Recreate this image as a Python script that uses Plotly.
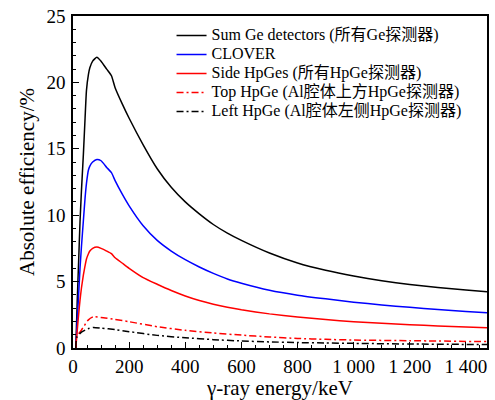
import plotly.graph_objects as go

# Energies (keV) and absolute efficiencies (%)
e_main = [10, 15, 20, 25, 30, 37, 43, 48, 55, 60, 70, 85, 100, 120, 137, 150, 175, 200, 250, 300, 350, 400, 450, 500, 550, 600, 700, 800, 900, 1000, 1100, 1200, 1300, 1400, 1475]
sum_ge = [0, 3.5, 6.5, 9.5, 11.8, 14.6, 17.3, 19.4, 20.6, 21.1, 21.6, 21.9, 21.6, 21.0, 20.5, 19.6, 18.4, 17.3, 15.3, 13.5, 12.1, 11.0, 10.1, 9.3, 8.65, 8.1, 7.15, 6.4, 5.85, 5.42, 5.07, 4.78, 4.55, 4.36, 4.23]
clover = [0, 2.0, 4.0, 6.0, 7.6, 9.6, 11.3, 12.4, 13.4, 13.7, 14.0, 14.2, 14.1, 13.6, 13.2, 12.6, 11.6, 10.7, 9.2, 8.1, 7.3, 6.65, 6.1, 5.62, 5.2, 4.88, 4.35, 3.98, 3.7, 3.45, 3.24, 3.06, 2.9, 2.75, 2.65]
side_hpge = [0, 1.3, 2.5, 3.6, 4.5, 5.5, 6.2, 6.7, 7.1, 7.3, 7.5, 7.6, 7.5, 7.3, 7.1, 6.8, 6.4, 6.0, 5.3, 4.8, 4.33, 3.92, 3.58, 3.3, 3.07, 2.88, 2.57, 2.33, 2.14, 1.98, 1.86, 1.75, 1.66, 1.58, 1.52]

e_small = [10, 13, 30, 54, 72, 100, 150, 200, 300, 400, 500, 600, 700, 800, 900, 1000, 1200, 1475]
top_hpge = [0, 0.85, 1.35, 2.1, 2.35, 2.3, 2.15, 1.98, 1.6, 1.33, 1.13, 0.97, 0.83, 0.72, 0.65, 0.6, 0.55, 0.48]
left_hpge = [0, 0.8, 1.2, 1.45, 1.55, 1.5, 1.38, 1.23, 0.95, 0.77, 0.63, 0.53, 0.46, 0.41, 0.38, 0.35, 0.3, 0.26]

names = ["Sum Ge detectors (所有Ge探测器)", "CLOVER", "Side HpGes (所有HpGe探测器)",
         "Top HpGe (Al腔体上方HpGe探测器)", "Left HpGe (Al腔体左侧HpGe探测器)"]

x_tickvals = [0, 200, 400, 600, 800, 1000, 1200, 1400]
x_ticktext = ["0", "200", "400", "600", "800", "1 000", "1 200", "1 400"]
y_tickvals = [0, 5, 10, 15, 20, 25]

FONT = "Liberation Serif, Noto Sans CJK SC, serif"
dashdot = "7px,3px,2px,3px"

def lbl(s):
    return '<span style="font-size:16px">' + s + '</span>'

fig = go.Figure()
styles = [
    (e_main, sum_ge, "#000000", "solid"),
    (e_main, clover, "#0000ff", "solid"),
    (e_main, side_hpge, "#ff0000", "solid"),
    (e_small, top_hpge, "#ff0000", dashdot),
    (e_small, left_hpge, "#000000", dashdot),
]
for (xs, ys, col, dash), nm in zip(styles, names):
    fig.add_trace(go.Scatter(x=xs, y=ys, mode="lines", name=lbl(nm),
                             line=dict(color=col, width=1.5, dash=dash, shape="spline", smoothing=0.5)))

fig.update_layout(
    width=495, height=400,
    margin=dict(l=73, r=6, t=15, b=52),
    paper_bgcolor="white", plot_bgcolor="white",
    font=dict(family=FONT, color="#000000", size=19),
    showlegend=True,
    legend=dict(x=0.238, y=0.985, xanchor="left", yanchor="top",
                bgcolor="rgba(0,0,0,0)", borderwidth=0,
                font=dict(family=FONT, size=11, color="#000000"), tracegroupgap=0,
                itemwidth=30),
)
fig.update_xaxes(
    range=[0, 1475], tickvals=x_tickvals, ticktext=x_ticktext,
    ticks="inside", ticklen=6, tickwidth=1, tickcolor="#000",
    minor=dict(dtick=50, ticks="inside", ticklen=3, tickcolor="#000", tickwidth=1),
    showline=True, linecolor="#000", linewidth=1.5, mirror=True,
    showgrid=False, zeroline=False,
    title=dict(text="γ-ray energy/keV", font=dict(family=FONT, size=21, color="#000"), standoff=3),
    tickfont=dict(family=FONT, size=19, color="#000"),
)
fig.update_yaxes(
    range=[0, 25], tickvals=y_tickvals,
    ticks="inside", ticklen=6, tickwidth=1, tickcolor="#000",
    minor=dict(dtick=1, ticks="inside", ticklen=3, tickcolor="#000", tickwidth=1),
    showline=True, linecolor="#000", linewidth=1.5, mirror=True,
    showgrid=False, zeroline=False,
    ticklabelstandoff=2,
    title=dict(text="Absolute efficiency/%", font=dict(family=FONT, size=21, color="#000"), standoff=6),
    tickfont=dict(family=FONT, size=19, color="#000"),
)

fig.write_html("out.html")
